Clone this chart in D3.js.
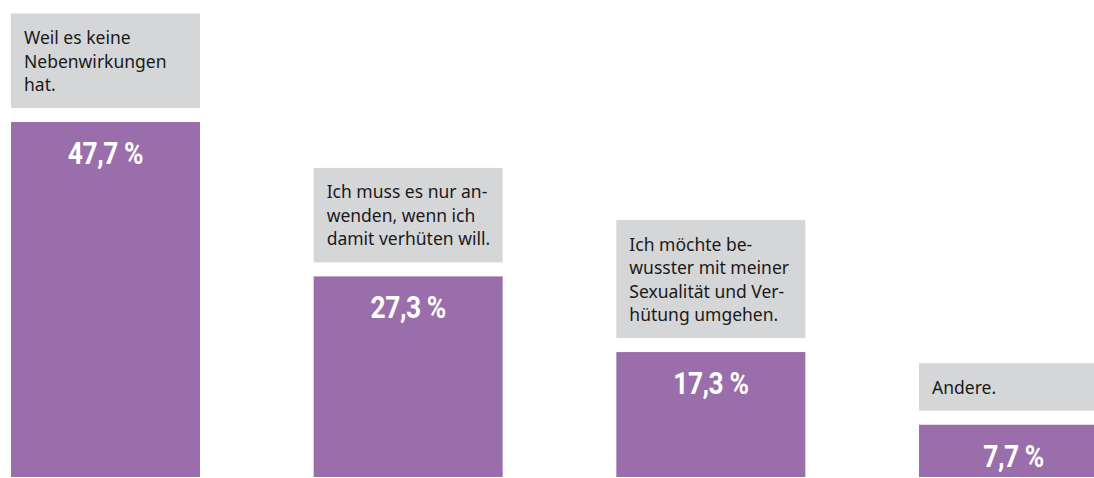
<!DOCTYPE html>
<html>
<head>
<meta charset="utf-8">
<script src="https://cdn.jsdelivr.net/npm/d3@7"></script>
<style>
  html, body { margin: 0; padding: 0; background: #fff; overflow: hidden; }
  svg { display: block; }
</style>
</head>
<body>
<div id="frame"></div>
<script>
// data
var answers = ["nebenwirkungen", "anwenden", "bewusster", "andere"];
var shares = [47.7, 27.3, 17.3, 7.7];
var shareLabels = ["47,7 %", "27,3 %", "17,3 %", "7,7 %"];
var answerLines = [
  ["Weil es keine", "Nebenwirkungen", "hat."],
  ["Ich muss es nur an-", "wenden, wenn ich", "damit verhüten will."],
  ["Ich möchte be-", "wusster mit meiner", "Sexualität und Ver-", "hütung umgehen."],
  ["Andere."]
];

var width = 1094, height = 478;
var barColour = "#9a6eaa";
var boxColour = "#d5d6d8";

var svg = d3.select('#frame').append('svg').attr('width', width).attr('height', height);

var x = d3.scaleBand()
  .domain(answers)
  .range([11, 1108])
  .paddingInner(0.3756)
  .paddingOuter(0);

// baseline sits a little under the picture's bottom edge
var y = d3.scaleLinear()
  .domain([0, 47.7])
  .range([483, 122]);

var bottom = 477;
var lineHeight = 23.5;
var gap = 14;

var rows = answers.map(function(a, i) {
  return { key: a, value: shares[i], label: shareLabels[i], lines: answerLines[i] };
});

var g = svg.selectAll('g.answer')
  .data(rows)
  .enter()
  .append('g')
  .attr('class', 'answer');

g.append('rect')
  .attr('x', function(d) { return x(d.key); })
  .attr('y', function(d) { return y(d.value); })
  .attr('width', x.bandwidth())
  .attr('height', function(d) { return bottom - y(d.value); })
  .attr('fill', barColour);

// no condensed face installed, so squeeze a bold one horizontally
g.append('text')
  .attr('transform', function(d) {
    var cx = x(d.key) + x.bandwidth() / 2;
    return 'translate(' + cx + ',' + (y(d.value) + 42) + ') scale(0.85,1)';
  })
  .attr('text-anchor', 'middle')
  .attr('fill', '#fff')
  .attr('font-family', 'Roboto, "Liberation Sans", sans-serif')
  .attr('font-weight', 'bold')
  .attr('font-size', '31px')
  .attr('letter-spacing', '-0.5px')
  .text(function(d) { return d.label; });

// grey answer boxes above each bar
function boxHeight(d) { return 30.5 + (d.lines.length - 1) * lineHeight + 17; }

g.append('rect')
  .attr('x', function(d) { return x(d.key); })
  .attr('y', function(d) { return y(d.value) - gap - boxHeight(d); })
  .attr('width', x.bandwidth())
  .attr('height', boxHeight)
  .attr('fill', boxColour);

g.append('text')
  .attr('fill', '#1a1a1a')
  .attr('font-family', '"Noto Sans", "Open Sans", sans-serif')
  .attr('font-size', '17.5px')
  .each(function(d) {
    var top = y(d.value) - gap - boxHeight(d);
    var t = d3.select(this);
    d.lines.forEach(function(line, j) {
      t.append('tspan')
        .attr('x', x(d.key) + 13)
        .attr('y', top + 30.5 + j * lineHeight)
        .text(line);
    });
  });
</script>
</body>
</html>
